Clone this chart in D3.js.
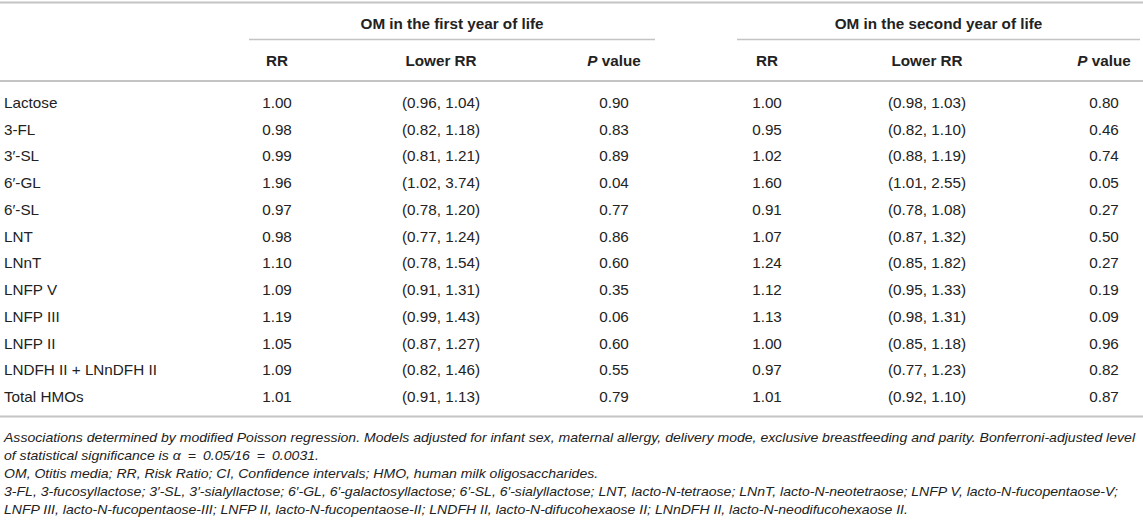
<!DOCTYPE html>
<html>
<head>
<meta charset="utf-8">
<script src="https://d3js.org/d3.v7.min.js"></script>
<style>
  body { margin: 0; background: #fff; }
  svg text { font-family: "Liberation Sans", Arial, sans-serif; fill: #222; }
</style>
</head>
<body>
<div id="my_table"></div>
<script>
// table values
var rowLabels = ["Lactose", "3-FL", "3\u2032-SL", "6\u2032-GL", "6\u2032-SL", "LNT", "LNnT", "LNFP V", "LNFP III", "LNFP II", "LNDFH II + LNnDFH II", "Total HMOs"];
var rr1 = [1.00, 0.98, 0.99, 1.96, 0.97, 0.98, 1.10, 1.09, 1.19, 1.05, 1.09, 1.01];
var lo1 = [0.96, 0.82, 0.81, 1.02, 0.78, 0.77, 0.78, 0.91, 0.99, 0.87, 0.82, 0.91];
var hi1 = [1.04, 1.18, 1.21, 3.74, 1.20, 1.24, 1.54, 1.31, 1.43, 1.27, 1.46, 1.13];
var p1  = [0.90, 0.83, 0.89, 0.04, 0.77, 0.86, 0.60, 0.35, 0.06, 0.60, 0.55, 0.79];
var rr2 = [1.00, 0.95, 1.02, 1.60, 0.91, 1.07, 1.24, 1.12, 1.13, 1.00, 0.97, 1.01];
var lo2 = [0.98, 0.82, 0.88, 1.01, 0.78, 0.87, 0.85, 0.95, 0.98, 0.85, 0.77, 0.92];
var hi2 = [1.03, 1.10, 1.19, 2.55, 1.08, 1.32, 1.82, 1.33, 1.31, 1.18, 1.23, 1.10];
var p2  = [0.80, 0.46, 0.74, 0.05, 0.27, 0.50, 0.27, 0.19, 0.09, 0.96, 0.82, 0.87];
var groupTitles = ["OM in the first year of life", "OM in the second year of life"];
var colKeys = ["rr1", "ci1", "p1", "rr2", "ci2", "p2"];
var footnotes = [
  "Associations determined by modified Poisson regression. Models adjusted for infant sex, maternal allergy, delivery mode, exclusive breastfeeding and parity. Bonferroni-adjusted level",
  "of statistical significance is \u03b1\u2002=\u20020.05/16\u2002=\u20020.0031.",
  "OM, Otitis media; RR, Risk Ratio; CI, Confidence intervals; HMO, human milk oligosaccharides.",
  "3-FL, 3-fucosyllactose; 3\u2032-SL, 3\u2032-sialyllactose; 6\u2032-GL, 6\u2032-galactosyllactose; 6\u2032-SL, 6\u2032-sialyllactose; LNT, lacto-N-tetraose; LNnT, lacto-N-neotetraose; LNFP V, lacto-N-fucopentaose-V;",
  "LNFP III, lacto-N-fucopentaose-III; LNFP II, lacto-N-fucopentaose-II; LNDFH II, lacto-N-difucohexaose II; LNnDFH II, lacto-N-neodifucohexaose II."
];

var width = 1143, height = 522, fs = 14, sx = 1.09;
var ruleColor = "#c4c4c4";

var svg = d3.select("#my_table")
  .append("svg")
    .attr("width", width)
    .attr("height", height);

// row baselines and column centres
var y = d3.scalePoint().domain(rowLabels).range([108, 402]);
var x = d3.scaleOrdinal().domain(colKeys).range([277, 441, 614, 767, 927, 1104]);
var gx = d3.scaleOrdinal().domain(groupTitles).range([[249, 655], [737, 1140]]);

var f2 = d3.format(".2f");
var cells = {
  rr1: rr1.map(f2), ci1: lo1.map(function(d, i) { return "(" + f2(d) + ", " + f2(hi1[i]) + ")"; }), p1: p1.map(f2),
  rr2: rr2.map(f2), ci2: lo2.map(function(d, i) { return "(" + f2(d) + ", " + f2(hi2[i]) + ")"; }), p2: p2.map(f2)
};

// text is set a little wider than Liberation Sans to match the original face
function at(px, py, s) { return "translate(" + px + "," + py + ") scale(" + (s || sx) + ",1)"; }

// horizontal rules
[2.5, 81, 416.5].forEach(function(ly) {
  svg.append("line").attr("x1", 0).attr("x2", width).attr("y1", ly).attr("y2", ly)
    .style("stroke", ruleColor).style("stroke-width", 2);
});

// group headers
svg.selectAll("g.grp")
  .data(groupTitles)
  .enter()
  .append("g")
    .attr("class", "grp")
  .each(function(d) {
    var r = gx(d), g = d3.select(this);
    g.append("line").attr("x1", r[0]).attr("x2", r[1]).attr("y1", 39.5).attr("y2", 39.5)
      .style("stroke", ruleColor).style("stroke-width", 1.3);
    g.append("text")
      .attr("transform", at((r[0] + r[1]) / 2, 29))
      .attr("text-anchor", "middle")
      .style("font-size", fs)
      .style("font-weight", "bold")
      .text(d);
  });

// column headers
colKeys.forEach(function(k) {
  var t = svg.append("text")
    .attr("transform", at(x(k), 65.5))
    .attr("text-anchor", "middle")
    .style("font-size", fs)
    .style("font-weight", "bold");
  if (k.indexOf("rr") === 0) t.text("RR");
  else if (k.indexOf("ci") === 0) t.text("Lower RR");
  else {
    t.append("tspan").style("font-style", "italic").text("P");
    t.append("tspan").text(" value");
  }
});

// row labels
svg.selectAll("text.rowlab")
  .data(rowLabels)
  .enter()
  .append("text")
    .attr("class", "rowlab")
    .attr("transform", function(d) { return at(4, y(d)); })
    .style("font-size", fs)
    .text(function(d) { return d; });

// body cells
colKeys.forEach(function(k) {
  svg.selectAll("text.c-" + k)
    .data(cells[k])
    .enter()
    .append("text")
      .attr("class", "c-" + k)
      .attr("transform", function(d, i) { return at(x(k), y(rowLabels[i])); })
      .attr("text-anchor", "middle")
      .style("font-size", fs)
      .text(function(d) { return d; });
});

// footnotes, stretched so the first line fills the width like the original
var foot = svg.selectAll("text.foot")
  .data(footnotes)
  .enter()
  .append("text")
    .attr("class", "foot")
    .style("font-size", 13.5)
    .style("font-style", "italic")
    .text(function(d) { return d; });
var fsx = 1133 / foot.node().getComputedTextLength();
foot.attr("transform", function(d, i) { return at(4, 442 + i * 18, fsx); });
</script>
</body>
</html>
